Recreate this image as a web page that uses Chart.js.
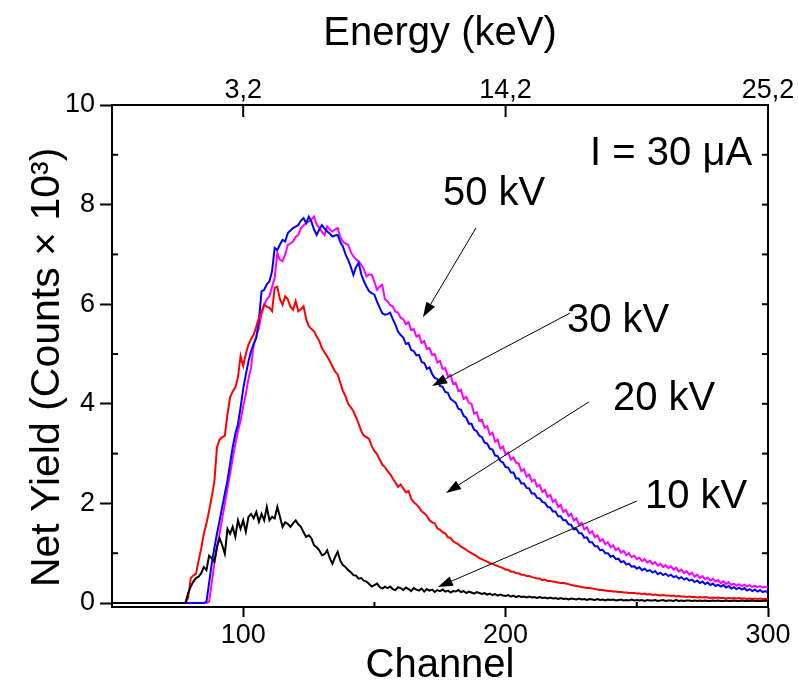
<!DOCTYPE html>
<html>
<head>
<meta charset="utf-8">
<script src="https://cdn.jsdelivr.net/npm/chart.js@4.4.1/dist/chart.umd.min.js"></script>
<style>
  html, body { margin: 0; padding: 0; background: #ffffff; }
  #wrap { width: 798px; height: 687px; }
</style>
</head>
<body>
<div id="wrap"><canvas id="c" width="798" height="687"></canvas></div>
<script>
// ---------- DATA (one value per channel, channels 50..300) ----------
const firstChannel = 50;

const series10kV = [
  0,0,0,0,0,0,0,0,0,0,                                   // 50
  0,0,0,0,0,0,0,0,0,0,                                   // 60
  0,0,0,0,0,0,0,0,0,0.2,                                 // 70
  0.33,0.43,0.5,0.53,0.6,0.72,0.66,0.95,0.9,0.83,        // 80
  1.13,1.3,1.16,0.99,1.49,1.39,1.53,1.33,1.66,1.49,      // 90
  1.66,1.43,1.73,1.79,1.7,1.83,1.63,1.79,1.66,1.93,      // 100
  1.66,1.73,1.7,1.93,1.73,1.53,1.62,1.59,1.53,1.6,       // 110
  1.66,1.58,1.53,1.42,1.33,1.36,1.3,1.16,1.12,1.06,      // 120
  0.96,0.98,1.06,0.9,0.79,0.92,1.03,0.85,0.76,0.72,      // 130
  0.66,0.62,0.56,0.55,0.49,0.5,0.45,0.43,0.38,0.33,      // 140
  0.36,0.39,0.32,0.29,0.33,0.3,0.33,0.28,0.26,0.32,      // 150
  0.3,0.26,0.31,0.28,0.24,0.3,0.27,0.25,0.29,0.23,       // 160
  0.28,0.25,0.27,0.22,0.26,0.24,0.27,0.23,0.25,0.21,     // 170
  0.24,0.23,0.26,0.22,0.24,0.2,0.23,0.21,0.19,0.22,      // 180
  0.2,0.18,0.2,0.17,0.19,0.16,0.18,0.15,0.17,0.15,       // 190
  0.14,0.16,0.13,0.15,0.12,0.14,0.12,0.13,0.11,0.13,     // 200
  0.11,0.12,0.1,0.12,0.1,0.11,0.09,0.11,0.09,0.1,        // 210
  0.08,0.1,0.08,0.09,0.07,0.09,0.08,0.07,0.09,0.07,      // 220
  0.08,0.06,0.08,0.07,0.06,0.08,0.06,0.07,0.05,0.07,     // 230
  0.06,0.07,0.05,0.06,0.07,0.05,0.06,0.05,0.07,0.05,     // 240
  0.06,0.05,0.06,0.04,0.06,0.05,0.05,0.06,0.04,0.05,     // 250
  0.06,0.04,0.05,0.05,0.04,0.06,0.04,0.05,0.04,0.05,     // 260
  0.05,0.04,0.05,0.04,0.05,0.04,0.05,0.04,0.04,0.05,     // 270
  0.04,0.05,0.04,0.04,0.05,0.04,0.04,0.05,0.04,0.04,     // 280
  0.05,0.04,0.04,0.04,0.05,0.04,0.04,0.04,0.04,0.05,     // 290
  0.04                                                   // 300
];

const series20kV = [
  0,0,0,0,0,0,0,0,0,0,                                   // 50
  0,0,0,0,0,0,0,0,0,0,                                   // 60
  0,0,0,0,0,0,0,0,0,0.1,                                 // 70
  0.5,0.55,0.59,0.85,1.1,1.39,1.6,1.85,2.13,2.43,        // 80
  3.13,3.28,3.33,3.36,3.79,4.13,4.25,4.33,4.53,4.96,     // 90
  4.76,5.0,5.19,5.3,5.39,5.55,5.73,5.85,5.99,5.95,       // 100
  5.93,5.86,6.33,6.35,6.1,5.99,6.16,6.1,5.95,5.89,       // 110
  6.06,5.86,5.9,5.96,5.7,5.56,5.5,5.46,5.35,5.26,        // 120
  5.12,5.03,4.95,4.86,4.75,4.65,4.59,4.42,4.26,4.15,     // 130
  4.0,3.93,3.85,3.73,3.6,3.45,3.36,3.33,3.29,3.15,       // 140
  3.05,2.99,2.88,2.78,2.73,2.65,2.59,2.5,2.42,2.33,      // 150
  2.38,2.3,2.22,2.25,2.1,2.02,1.98,1.92,1.84,1.8,        // 160
  1.75,1.66,1.62,1.6,1.5,1.47,1.42,1.4,1.32,1.31,        // 170
  1.24,1.21,1.18,1.13,1.1,1.07,1.03,1.0,0.97,0.94,       // 180
  0.9,0.88,0.85,0.83,0.8,0.79,0.76,0.74,0.72,0.7,        // 190
  0.67,0.67,0.63,0.63,0.6,0.6,0.57,0.57,0.54,0.54,       // 200
  0.52,0.51,0.49,0.49,0.46,0.47,0.44,0.44,0.43,0.42,     // 210
  0.41,0.4,0.4,0.39,0.38,0.36,0.35,0.34,0.33,0.32,       // 220
  0.31,0.3,0.3,0.29,0.28,0.27,0.26,0.26,0.25,0.24,       // 230
  0.24,0.23,0.23,0.22,0.22,0.21,0.21,0.2,0.2,0.2,        // 240
  0.19,0.19,0.18,0.19,0.17,0.18,0.16,0.17,0.16,0.15,     // 250
  0.16,0.15,0.15,0.14,0.15,0.13,0.14,0.13,0.13,0.12,     // 260
  0.13,0.12,0.12,0.11,0.12,0.11,0.12,0.11,0.1,0.11,      // 270
  0.1,0.11,0.1,0.1,0.09,0.1,0.09,0.1,0.09,0.1,           // 280
  0.09,0.09,0.08,0.09,0.08,0.09,0.08,0.09,0.08,0.08,     // 290
  0.08                                                   // 300
];

const series30kV = [
  0,0,0,0,0,0,0,0,0,0,                                   // 50
  0,0,0,0,0,0,0,0,0,0,                                   // 60
  0,0,0,0,0,0,0,0,0,0,                                   // 70
  0,0,0,0,0,0,0.03,0.4,0.79,1.1,                         // 80
  1.39,1.66,1.93,2.2,2.46,2.8,3.13,3.4,3.59,3.93,        // 90
  4.3,4.59,4.85,5.06,5.2,5.33,5.69,6.26,6.29,6.4,        // 100
  6.46,6.66,7.13,7.09,7.2,7.29,7.26,7.43,7.48,7.53,      // 110
  7.56,7.59,7.68,7.73,7.63,7.76,7.66,7.5,7.39,7.5,       // 120
  7.59,7.52,7.46,7.42,7.36,7.38,7.39,7.25,7.16,7.0,      // 130
  6.89,6.75,6.59,6.75,6.83,6.6,6.46,6.35,6.26,6.22,      // 140
  6.19,6.05,5.93,5.82,5.79,5.8,5.83,5.7,5.59,5.45,       // 150
  5.38,5.33,5.2,5.22,5.08,5.06,4.97,4.98,4.84,4.82,      // 160
  4.7,4.73,4.6,4.52,4.5,4.36,4.34,4.24,4.22,4.1,         // 170
  4.06,4.02,3.9,3.88,3.76,3.72,3.6,3.6,3.48,3.45,        // 180
  3.36,3.33,3.22,3.2,3.1,3.08,2.96,2.95,2.85,2.82,       // 190
  2.73,2.72,2.62,2.62,2.5,2.5,2.4,2.4,2.31,2.3,          // 200
  2.2,2.2,2.11,2.1,2.03,2.01,1.93,1.92,1.84,1.84,        // 210
  1.74,1.74,1.66,1.66,1.58,1.57,1.48,1.49,1.4,1.4,       // 220
  1.31,1.32,1.22,1.22,1.14,1.14,1.06,1.07,1.0,1.0,       // 230
  0.93,0.95,0.88,0.89,0.82,0.84,0.77,0.79,0.73,0.74,     // 240
  0.69,0.72,0.66,0.69,0.64,0.66,0.61,0.64,0.58,0.61,     // 250
  0.56,0.59,0.54,0.57,0.52,0.54,0.49,0.52,0.47,0.5,      // 260
  0.45,0.47,0.42,0.45,0.4,0.43,0.38,0.41,0.36,0.39,      // 270
  0.34,0.37,0.33,0.36,0.31,0.34,0.29,0.32,0.28,0.31,     // 280
  0.27,0.3,0.25,0.28,0.24,0.27,0.23,0.26,0.22,0.24,      // 290
  0.21                                                   // 300
];

const series50kV = [
  0,0,0,0,0,0,0,0,0,0,                                   // 50
  0,0,0,0,0,0,0,0,0,0,                                   // 60
  0,0,0,0,0,0,0,0,0,0,                                   // 70
  0,0,0,0,0,0,0,0.03,0.4,0.79,                           // 80
  1.1,1.39,1.7,1.99,2.3,2.59,2.9,3.19,3.45,3.66,         // 90
  3.95,4.19,4.5,4.73,5.19,5.35,5.53,5.8,5.99,6.1,        // 100
  6.16,6.35,6.53,7.03,6.89,6.86,7.0,7.19,7.22,7.26,      // 110
  7.35,7.39,7.53,7.58,7.63,7.66,7.7,7.76,7.6,7.53,       // 120
  7.45,7.39,7.56,7.5,7.46,7.5,7.53,7.35,7.26,7.22,       // 130
  7.19,7.05,6.96,6.9,6.86,6.79,6.7,6.56,6.6,6.59,        // 140
  6.45,6.29,6.35,6.39,6.1,6.06,5.98,5.96,5.85,5.83,      // 150
  5.73,5.7,5.6,5.64,5.48,5.5,5.35,5.38,5.22,5.26,        // 160
  5.1,5.12,4.98,5.0,4.83,4.86,4.7,4.72,4.55,4.58,        // 170
  4.4,4.42,4.26,4.28,4.1,4.14,4.02,4.0,3.8,3.83,         // 180
  3.66,3.68,3.52,3.55,3.38,3.42,3.24,3.28,3.1,3.14,      // 190
  2.98,3.02,2.88,2.92,2.82,2.8,2.65,2.69,2.54,2.58,      // 200
  2.44,2.48,2.34,2.37,2.23,2.27,2.13,2.17,2.03,2.07,     // 210
  1.93,1.97,1.83,1.87,1.75,1.79,1.66,1.7,1.57,1.61,      // 220
  1.48,1.52,1.4,1.44,1.32,1.36,1.24,1.28,1.18,1.22,      // 230
  1.12,1.16,1.06,1.1,1.01,1.05,0.96,1.0,0.92,0.95,       // 240
  0.88,0.91,0.84,0.88,0.81,0.85,0.78,0.82,0.75,0.79,     // 250
  0.72,0.76,0.7,0.74,0.67,0.71,0.63,0.67,0.6,0.64,       // 260
  0.57,0.61,0.53,0.57,0.5,0.54,0.48,0.51,0.45,0.49,      // 270
  0.43,0.46,0.4,0.44,0.38,0.42,0.36,0.39,0.35,0.38,      // 280
  0.34,0.37,0.33,0.36,0.32,0.35,0.32,0.34,0.31,0.33,     // 290
  0.31                                                   // 300
];

const seriesNames  = ['10 kV', '20 kV', '30 kV', '50 kV'];
const seriesColors = ['#000000', '#ff0000', '#0000ff', '#ff00ff'];

// axis ticks
const channelTicks      = [100, 200, 300];
const channelMinorTicks = [150, 250];
const yieldTicks        = [0, 2, 4, 6, 8, 10];
const yieldMinorTicks   = [1, 3, 5, 7, 9];
const yieldRightTicks   = [1, 2, 3, 4, 5, 6, 7, 8, 9];
const energyTicks       = [3.2, 14.2, 25.2];      // keV at channels 100, 200, 300
const energyRange       = [-2.3, 25.2];           // keV at channels 50 and 300

// annotations (text anchored at channel / yield)
const annotationTexts = [
  { text: 'I = 30 \u03BCA', ch: 232.2, v: 8.80 },
  { text: '50 kV', ch: 176.1, v: 7.99 },
  { text: '30 kV', ch: 223.4, v: 5.44 },
  { text: '20 kV', ch: 240.9, v: 3.88 },
  { text: '10 kV', ch: 253.1, v: 1.91 }
];
const annotationArrows = [
  { from: [188.7, 7.53], to: [168.5, 5.74] },
  { from: [224.5, 5.82], to: [172.0, 4.36] },
  { from: [231.8, 4.04], to: [177.3, 2.21] },
  { from: [250.1, 2.05], to: [174.2, 0.32] }
];

// ---------- BUILD ----------
const FONT = '"Liberation Sans", Arial, Helvetica, sans-serif';
const allSeries = [series10kV, series20kV, series30kV, series50kV];
const toPoints = arr => arr.map((v, i) => ({ x: firstChannel + i, y: v }));

const datasets = allSeries.map((arr, k) => ({
  label: seriesNames[k],
  data: toPoints(arr),
  borderColor: seriesColors[k],
  backgroundColor: seriesColors[k],
  borderWidth: 2,
  pointRadius: 0,
  tension: 0,
  fill: false
}));

const extrasPlugin = {
  id: 'extras',
  afterDraw(chart) {
    const { ctx, chartArea: ca, scales } = chart;
    const sx = scales.x, sy = scales.y, se = scales.x2;
    ctx.save();
    ctx.strokeStyle = '#000';
    ctx.lineWidth = 2;
    const seg = (x1, y1, x2, y2) => { ctx.beginPath(); ctx.moveTo(x1, y1); ctx.lineTo(x2, y2); ctx.stroke(); };
    // top energy ticks (inward)
    energyTicks.forEach(e => { const p = se.getPixelForValue(e); seg(p, ca.top, p, ca.top + 12); });
    // bottom minor ticks (inward)
    channelMinorTicks.forEach(c => { const p = sx.getPixelForValue(c); seg(p, ca.bottom, p, ca.bottom - 5); });
    // left minor ticks (inward)
    yieldMinorTicks.forEach(v => { const p = sy.getPixelForValue(v); seg(ca.left, p, ca.left + 6, p); });
    // right ticks (inward)
    yieldRightTicks.forEach(v => { const p = sy.getPixelForValue(v); seg(ca.right, p, ca.right - 6, p); });

    // arrows
    ctx.lineWidth = 1;
    ctx.fillStyle = '#000';
    annotationArrows.forEach(a => {
      const x1 = sx.getPixelForValue(a.from[0]), y1 = sy.getPixelForValue(a.from[1]);
      const x2 = sx.getPixelForValue(a.to[0]),   y2 = sy.getPixelForValue(a.to[1]);
      const ang = Math.atan2(y2 - y1, x2 - x1);
      const L = 15, W = 5;
      const bx = x2 - L * Math.cos(ang), by = y2 - L * Math.sin(ang);
      seg(x1, y1, bx, by);
      ctx.beginPath();
      ctx.moveTo(x2, y2);
      ctx.lineTo(bx + W * Math.sin(ang), by - W * Math.cos(ang));
      ctx.lineTo(bx - W * Math.sin(ang), by + W * Math.cos(ang));
      ctx.closePath();
      ctx.fill();
    });

    // texts
    ctx.font = '40px ' + FONT;
    ctx.textAlign = 'left';
    ctx.textBaseline = 'alphabetic';
    annotationTexts.forEach(t => {
      ctx.fillText(t.text, sx.getPixelForValue(t.ch), sy.getPixelForValue(t.v));
    });
    ctx.restore();
  }
};

const tickFont = { family: FONT, size: 27, lineHeight: 1.2 };

new Chart(document.getElementById('c'), {
  type: 'line',
  data: { datasets },
  plugins: [extrasPlugin],
  options: {
    responsive: false,
    animation: false,
    devicePixelRatio: 1,
    layout: { padding: { left: 0, right: 30, top: 0, bottom: 0 } },
    plugins: { legend: { display: false }, tooltip: { enabled: false } },
    scales: {
      x: {
        type: 'linear', position: 'bottom',
        min: firstChannel, max: 300,
        afterBuildTicks: s => { s.ticks = channelTicks.map(v => ({ value: v })); },
        afterFit: s => { s.height = 80; },
        grid: { drawOnChartArea: false, drawTicks: true, tickLength: 10, tickWidth: 2, color: '#000' },
        border: { display: true, color: '#000', width: 2 },
        ticks: { color: '#000', font: tickFont, padding: 2, maxRotation: 0, autoSkip: false },
        title: { display: true, text: 'Channel', color: '#000',
                 font: { family: FONT, size: 40, lineHeight: 1 }, padding: { top: 0, bottom: 1 } }
      },
      x2: {
        type: 'linear', position: 'top',
        min: energyRange[0], max: energyRange[1],
        afterBuildTicks: s => { s.ticks = energyTicks.map(v => ({ value: v })); },
        afterFit: s => { s.height = 105; },
        grid: { drawOnChartArea: false, drawTicks: false, color: '#000' },
        border: { display: true, color: '#000', width: 2 },
        ticks: { color: '#000', font: { family: FONT, size: 27, lineHeight: 1 }, padding: 1, maxRotation: 0, autoSkip: false,
                 callback: v => String(v).replace('.', ',') },
        title: { display: true, text: 'Energy (keV)', color: '#000',
                 font: { family: FONT, size: 40, lineHeight: 1 }, padding: { top: 14, bottom: 0 } }
      },
      y: {
        type: 'linear', position: 'left',
        min: -0.08, max: 10,
        afterBuildTicks: s => { s.ticks = yieldTicks.map(v => ({ value: v })); },
        afterFit: s => { s.width = 112; },
        grid: { drawOnChartArea: false, drawTicks: true, tickLength: 12, tickWidth: 2, color: '#000' },
        border: { display: true, color: '#000', width: 2 },
        ticks: { color: '#000', font: tickFont, padding: 5, autoSkip: false },
        title: { display: true, text: 'Net Yield (Counts \u00D7 10\u00B3)  ', color: '#000',
                 font: { family: FONT, size: 41, lineHeight: 1 }, padding: { top: 27, bottom: 0 } }
      },
      y2: {
        type: 'linear', position: 'right',
        min: -0.08, max: 10,
        afterFit: s => { s.width = 0; },
        grid: { drawOnChartArea: false, drawTicks: false },
        border: { display: true, color: '#000', width: 2 },
        ticks: { display: false }
      }
    }
  }
});
</script>
</body>
</html>
